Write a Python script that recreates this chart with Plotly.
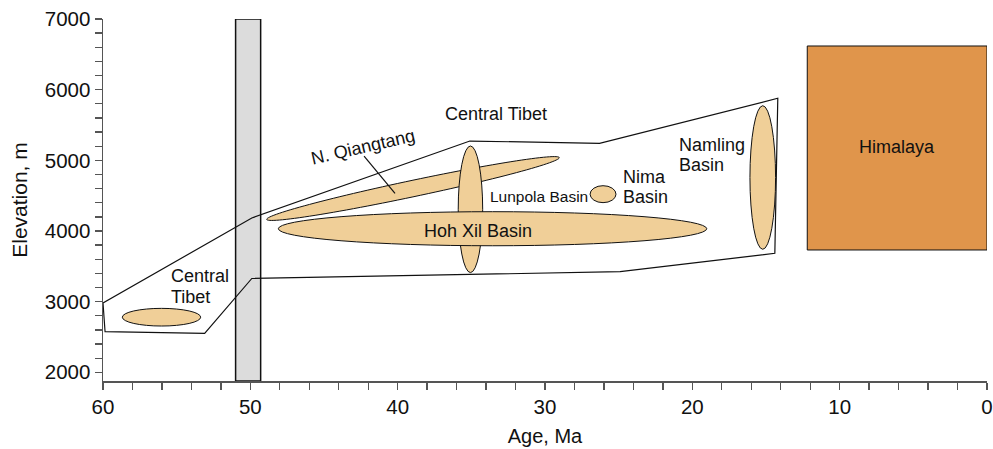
import numpy as np
import plotly.graph_objects as go

# ---------------- data ----------------
AGE_RANGE = [60, 0]
ELEV_RANGE = [1877, 7000]

# Suture / collision band (grey bar) and Himalaya block
collision_age = [51.0, 49.3]
himalaya_age = [12.2, 0.0]
himalaya_elev = [3731, 6618]

# Central Tibet envelope polygon
poly_age = [60.0, 49.9, 35.1, 26.3, 14.2, 14.4, 24.9, 49.9, 53.1, 59.86]
poly_elev = [2981, 4184, 5273, 5241, 5878, 3684, 3424, 3328, 2552, 2575]

# Axis-aligned basin ellipses (drawn in this order)
ell_names = ["Central Tibet", "Lunpola", "Hoh Xil", "Nima", "Namling"]
ell_age = [56.03, 35.06, 33.56, 26.06, 15.22]
ell_elev = [2780, 4307, 4032, 4521, 4757]
ell_age_half = [2.66, 0.83, 14.54, 0.88, 0.87]
ell_elev_half = [125, 896, 241, 120, 1016]

# Tilted N. Qiangtang ellipse: two tips and vertical half thickness
nq_tip_age = [48.89, 29.03]
nq_tip_elev = [4165, 5037]
nq_half_thick = 118

# Leader line for N. Qiangtang label
leader_age = [42.28, 40.18]
leader_elev = [5061, 4533]

# Text labels (one entry per line)
lab_text = ["Central", "Tibet", "Central Tibet", "Hoh Xil Basin", "Lunpola Basin",
            "Nima", "Basin", "Namling", "Basin", "Himalaya"]
lab_age = [55.52, 55.52, 36.90, 34.55, 33.85, 24.84, 24.84, 21.06, 21.06, 6.1]
lab_elev = [3363, 3070, 5656, 4000, 4485, 4760, 4477, 5217, 4934, 5193]
lab_anchor = ["left", "left", "left", "center", "left", "left", "left", "left", "left", "center"]
lab_size = [18, 18, 18, 18, 15.5, 18, 18, 18, 18, 18]
nq_label = "N. Qiangtang"
nq_label_age, nq_label_elev = 42.35, 5189

FILL_BASIN = "#f0cf98"
FILL_HIMAL = "#e0954b"
FILL_GREY = "#dcdcdc"
FONT = "Liberation Sans, Arial, sans-serif"

fig = go.Figure()
# invisible trace so the axes exist
fig.add_trace(go.Scatter(x=[60, 0], y=[ELEV_RANGE[0], ELEV_RANGE[0]], mode="markers",
                         marker=dict(opacity=0), hoverinfo="skip", showlegend=False))

shapes = []
shapes.append(dict(type="rect", xref="x", yref="y", x0=collision_age[0], x1=collision_age[1],
                   y0=ELEV_RANGE[0], y1=7000, fillcolor=FILL_GREY,
                   line=dict(color="#111", width=1.5), layer="above"))
shapes.append(dict(type="rect", xref="x", yref="y", x0=himalaya_age[0], x1=himalaya_age[1],
                   y0=himalaya_elev[0], y1=himalaya_elev[1], fillcolor=FILL_HIMAL,
                   line=dict(color="#111", width=1), layer="above"))
path = "M " + " L ".join(f"{a},{e}" for a, e in zip(poly_age, poly_elev)) + " Z"
shapes.append(dict(type="path", xref="x", yref="y", path=path, fillcolor="rgba(0,0,0,0)",
                   line=dict(color="#111", width=1.2), layer="above"))


def ellipse(i):
    return dict(type="circle", xref="x", yref="y",
                x0=ell_age[i] - ell_age_half[i], x1=ell_age[i] + ell_age_half[i],
                y0=ell_elev[i] - ell_elev_half[i], y1=ell_elev[i] + ell_elev_half[i],
                fillcolor=FILL_BASIN, line=dict(color="#111", width=1), layer="above")


# Central Tibet small ellipse
shapes.append(ellipse(0))
# N. Qiangtang sheared ellipse
cx = (nq_tip_age[0] + nq_tip_age[1]) / 2
cy = (nq_tip_elev[0] + nq_tip_elev[1]) / 2
dx = (nq_tip_age[1] - nq_tip_age[0]) / 2
dy = (nq_tip_elev[1] - nq_tip_elev[0]) / 2
t = np.linspace(0, 2 * np.pi, 121)
qx = cx + np.cos(t) * dx
qy = cy + np.cos(t) * dy + np.sin(t) * nq_half_thick
qpath = "M " + " L ".join(f"{a:.3f},{e:.1f}" for a, e in zip(qx, qy)) + " Z"
shapes.append(dict(type="path", xref="x", yref="y", path=qpath, fillcolor=FILL_BASIN,
                   line=dict(color="#111", width=1), layer="above"))
for i in range(1, len(ell_names)):
    shapes.append(ellipse(i))
shapes.append(dict(type="line", xref="x", yref="y", x0=leader_age[0], x1=leader_age[1],
                   y0=leader_elev[0], y1=leader_elev[1], line=dict(color="#111", width=1.2),
                   layer="above"))

annotations = []
for txt, a, e, anc, sz in zip(lab_text, lab_age, lab_elev, lab_anchor, lab_size):
    annotations.append(dict(x=a, y=e, xref="x", yref="y", text=txt, showarrow=False,
                            xanchor=anc, yanchor="middle",
                            font=dict(family=FONT, size=sz, color="#111")))
annotations.append(dict(x=nq_label_age, y=nq_label_elev, xref="x", yref="y", text=nq_label,
                        showarrow=False, textangle=-13, xanchor="center", yanchor="middle",
                        font=dict(family=FONT, size=18, color="#111")))

axis_common = dict(showgrid=False, zeroline=False, showline=True, linecolor="#555",
                   linewidth=1.5, ticks="outside", ticklen=7, tickwidth=1.3, tickcolor="#555",
                   automargin=False, ticklabeloverflow="allow",
                   tickfont=dict(family=FONT, size=20.5, color="#111"))

fig.update_layout(
    width=993, height=449,
    margin=dict(l=103, r=6, t=19, b=68, autoexpand=False),
    paper_bgcolor="white", plot_bgcolor="white",
    shapes=shapes, annotations=annotations,
    xaxis=dict(range=AGE_RANGE, autorange=False, dtick=10, tick0=0,
               minor=dict(dtick=2, ticks="outside", ticklen=7, tickwidth=1.3, tickcolor="#555"),
               title=dict(text="Age, Ma", font=dict(family=FONT, size=20, color="#111"), standoff=12),
               **axis_common),
    yaxis=dict(range=ELEV_RANGE, autorange=False, dtick=1000, tick0=0,
               minor=dict(dtick=200, tick0=0, ticks="outside", ticklen=7, tickwidth=1.3, tickcolor="#555"),
               title=dict(text="Elevation, m", font=dict(family=FONT, size=21, color="#111"), standoff=11),
               **axis_common),
    showlegend=False,
    hovermode=False,
)

fig.write_html("out.html", config={"displayModeBar": False, "staticPlot": True},
               post_script="document.body.style.margin='0';document.body.style.overflow='hidden';")
